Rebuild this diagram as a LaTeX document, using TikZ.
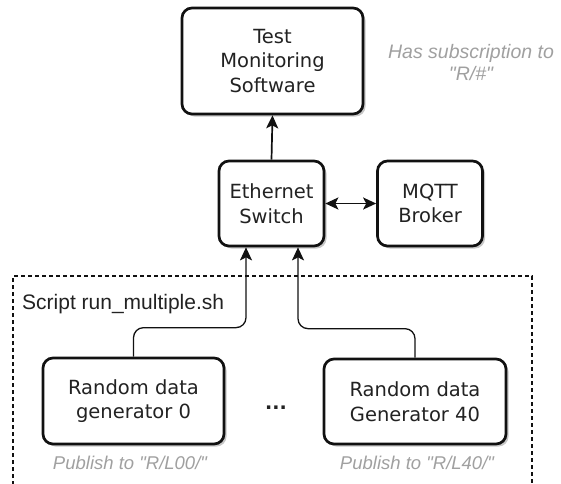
\documentclass[tikz,border=0pt]{standalone}
\usepackage{fontspec}
\setmainfont{DejaVu Sans}
\newfontfamily\annfont{Liberation Sans}
\usetikzlibrary{arrows.meta,shadows}
\definecolor{boxtext}{HTML}{222222}
\definecolor{notegray}{HTML}{A0A0A0}
\definecolor{linecol}{HTML}{111111}
\tikzset{
  headtip/.tip={Stealth[length=13pt,width=12pt,inset=3pt]},
  unit/.style={draw=linecol, line width=2.7pt, rounded corners=10pt, fill=white,
    align=center, text=boxtext, inner sep=0pt,
    font=\fontsize{19.5}{24.5}\selectfont,
    drop shadow={shadow xshift=2.5pt, shadow yshift=-2.5pt, opacity=0.22, fill=black}},
  link/.style={draw=linecol, line width=1.7pt, -headtip},
  feed/.style={draw=linecol, line width=1.3pt, rounded corners=10pt, -headtip},
  note/.style={font=\annfont\itshape\fontsize{19.5}{22}\selectfont, text=notegray, align=center, inner sep=0pt},
  group/.style={draw=linecol, line width=1.1pt, dash pattern=on 4pt off 3pt},
}
\begin{document}
\begin{tikzpicture}[x=1pt,y=-1pt]
  \useasboundingbox (0,0) rectangle (561,483);

  % script group frame, open at the bottom
  \draw[group] (13,485) -- (13,276) -- (532,276) -- (532,485);
  \node[anchor=west, inner sep=0pt, text=boxtext, font=\annfont\fontsize{21}{24}\selectfont]
    (script) at (22,304) {Script run\_multiple.sh};

  % main units
  \node[unit, minimum width=181pt, minimum height=106pt] (monitor) at (272.5,61)
    {Test\\Monitoring\\Software};
  \node[unit, minimum width=105pt, minimum height=85pt] (switch) at (271.5,203.5)
    {Ethernet\\Switch};
  \node[unit, minimum width=105pt, minimum height=85pt] (broker) at (430,203.5)
    {MQTT\\Broker};
  \node[unit, minimum width=181pt, minimum height=86pt] (gen0) at (133.5,401)
    {Random data\\generator 0};
  \node[unit, minimum width=182pt, minimum height=85pt] (gen40) at (415,401.5)
    {Random data\\Generator 40};
  \node[inner sep=0pt, text=boxtext, font=\bfseries\fontsize{19}{22}\selectfont] (dots) at (276,408) {...};

  % annotations
  \node[note] (sub) at (471,63) {Has subscription to\\"R/\#"};
  \node[note, font=\annfont\itshape\fontsize{18.5}{22}\selectfont] (pub0) at (130,463) {Publish to "R/L00/"};
  \node[note, font=\annfont\itshape\fontsize{18.5}{22}\selectfont] (pub40) at (417,463) {Publish to "R/L40/"};

  % connections
  \draw[link] (switch.north) -- (monitor.south);
  \draw[link, headtip-headtip] (switch.east) -- (broker.west);
  \coordinate (in0) at ([xshift=-25.5pt]switch.south);
  \coordinate (in40) at ([xshift=26.5pt]switch.south);
  \draw[feed] (gen0.north) -- ++(0,-29) -| (in0);
  \draw[feed] (gen40.north) -- ++(0,-29) -| (in40);
\end{tikzpicture}
\end{document}
